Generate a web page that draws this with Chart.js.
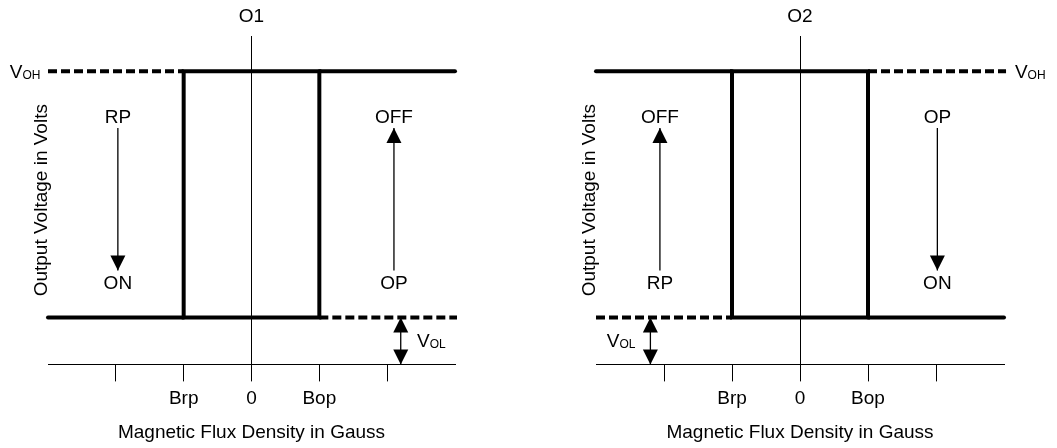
<!DOCTYPE html>
<html lang="en">
<head>
<meta charset="UTF-8">
<title>Output switching O1 / O2</title>
<script src="https://cdn.jsdelivr.net/npm/chart.js"></script>
<style>
  html, body { margin: 0; padding: 0; background: #fff; }
  .wrap { position: relative; width: 1057px; height: 448px; }
  .panel { position: absolute; top: 0; height: 448px; }
  #p1 { left: 0; width: 528px; }
  #p2 { left: 528px; width: 529px; }
</style>
</head>
<body>
<div class="wrap">
  <div class="panel" id="p1"><canvas id="c1"></canvas></div>
  <div class="panel" id="p2"><canvas id="c2"></canvas></div>
</div>
<script>
// shared axis (x in switch-point units, y in arbitrary volts)
const xTickValues = [-2, -1, 0, 1, 2];
const xTickLabels = ['', 'Brp', '0', 'Bop', ''];
const Brp = -1, Bop = 1;
const VOH = 6.25, VOL = 1;

// O1 (left)
const o1Loop = [[Brp, VOL], [Bop, VOL], [Bop, VOH], [Brp, VOH], [Brp, VOL]];
const o1Solid = [[[-3, VOL], [Brp, VOL]], [[Bop, VOH], [3, VOH]]];
const o1Dashed = [[[-3, VOH], [Brp, VOH]], [[Bop, VOL], [3.03, VOL]]];
const o1Arrows = [[-1.97, 5.04, 2.0, 'end'], [2.1, 2.0, 5.04, 'end'], [2.2, VOL, 0, 'both']];
const o1Labels = [['O1', 0, 7.42], ['RP', -1.97, 5.26], ['ON', -1.97, 1.71], ['OFF', 2.1, 5.26], ['OP', 2.1, 1.71]];
const o1SubLabels = [['V', 'OH', -3.11, VOH, 'right'], ['V', 'OL', 2.44, 0.53, 'left']];

// O2 (right)
const o2Loop = [[Brp, VOL], [Bop, VOL], [Bop, VOH], [Brp, VOH], [Brp, VOL]];
const o2Solid = [[[-3, VOH], [Brp, VOH]], [[Bop, VOL], [3, VOL]]];
const o2Dashed = [[[-3, VOL], [Brp, VOL]], [[Bop, VOH], [3.03, VOH]]];
const o2Arrows = [[-2.06, 2.0, 5.04, 'end'], [2.02, 5.04, 2.0, 'end'], [-2.2, VOL, 0, 'both']];
const o2Labels = [['O2', 0, 7.42], ['OFF', -2.06, 5.26], ['RP', -2.06, 1.71], ['OP', 2.02, 5.26], ['ON', 2.02, 1.71]];
const o2SubLabels = [['V', 'OH', 3.16, VOH, 'left'], ['V', 'OL', -2.42, 0.53, 'right']];

const FONT = "'Liberation Sans', Arial, Helvetica, sans-serif";
Chart.defaults.font.family = FONT;
Chart.defaults.font.size = 19;
Chart.defaults.color = '#000';

const pts = arr => arr.map(p => ({ x: p[0], y: p[1] }));

function drawHead(ctx, from, to) {
  const a = Math.atan2(to.y - from.y, to.x - from.x);
  const len = 15, half = 7.5;
  ctx.beginPath();
  ctx.moveTo(to.x, to.y);
  ctx.lineTo(to.x - len * Math.cos(a) + half * Math.sin(a), to.y - len * Math.sin(a) - half * Math.cos(a));
  ctx.lineTo(to.x - len * Math.cos(a) - half * Math.sin(a), to.y - len * Math.sin(a) + half * Math.cos(a));
  ctx.closePath();
  ctx.fill();
}

// arrowheads on the ends of the thin arrow datasets
const arrowPlugin = {
  id: 'arrowHeads',
  afterDatasetsDraw(chart) {
    const ctx = chart.ctx;
    chart.data.datasets.forEach((ds, i) => {
      if (!ds.heads) return;
      const el = chart.getDatasetMeta(i).data;
      const a = el[0], b = el[el.length - 1];
      ctx.save();
      ctx.fillStyle = '#000';
      drawHead(ctx, a, b);
      if (ds.heads === 'both') drawHead(ctx, b, a);
      ctx.restore();
    });
  }
};

// text notes placed with the chart's scales
function notesPlugin(labels, subLabels) {
  return {
    id: 'notes',
    afterDraw(chart) {
      const { ctx, scales: { x, y } } = chart;
      ctx.save();
      ctx.fillStyle = '#000';
      ctx.font = '19px ' + FONT;
      ctx.textAlign = 'center';
      ctx.textBaseline = 'middle';
      labels.forEach(l => ctx.fillText(l[0], x.getPixelForValue(l[1]), y.getPixelForValue(l[2])));

      ctx.textAlign = 'left';
      ctx.textBaseline = 'alphabetic';
      subLabels.forEach(l => {
        const px = x.getPixelForValue(l[2]);
        const base = y.getPixelForValue(l[3]) + 7;
        ctx.font = '19px ' + FONT;
        const w1 = ctx.measureText(l[0]).width;
        ctx.font = '12px ' + FONT;
        const w2 = ctx.measureText(l[1]).width;
        const left = l[4] === 'right' ? px - w1 - w2 : px;
        ctx.font = '19px ' + FONT;
        ctx.fillText(l[0], left, base);
        ctx.font = '12px ' + FONT;
        ctx.fillText(l[1], left + w1, base + 1);
      });
      ctx.restore();
    }
  };
}

function buildChart(id, loop, solid, dashed, arrows, labels, subLabels, padding) {
  const datasets = [];
  datasets.push({ data: pts(loop), borderColor: '#000', borderWidth: 4, borderJoinStyle: 'miter', borderCapStyle: 'square' });
  solid.forEach(s => datasets.push({ data: pts(s), borderColor: '#000', borderWidth: 4, borderCapStyle: 'round' }));
  dashed.forEach(s => datasets.push({ data: pts(s), borderColor: '#000', borderWidth: 4, borderDash: [9, 4] }));
  arrows.forEach(a => datasets.push({
    data: [{ x: a[0], y: a[1] }, { x: a[0], y: a[2] }],
    borderColor: '#000', borderWidth: 1.3, heads: a[3]
  }));
  datasets.forEach(d => { d.pointRadius = 0; d.fill = false; d.tension = 0; d.clip = 6; });

  return new Chart(document.getElementById(id), {
    type: 'line',
    data: { datasets },
    options: {
      responsive: true,
      maintainAspectRatio: false,
      animation: false,
      layout: { padding },
      plugins: { legend: { display: false }, tooltip: { enabled: false } },
      scales: {
        x: {
          type: 'linear', min: -3, max: 3,
          afterBuildTicks: s => { s.ticks = xTickValues.map(v => ({ value: v })); },
          ticks: {
            autoSkip: false, maxRotation: 0, padding: 6,
            callback: v => xTickLabels[xTickValues.indexOf(v)] || ''
          },
          grid: {
            color: c => (c.tick && c.tick.value === 0) ? '#000' : 'rgba(0,0,0,0)',
            tickColor: '#000', tickLength: 17, lineWidth: 1
          },
          border: { display: true, color: '#000', width: 1 },
          title: { display: true, text: 'Magnetic Flux Density in Gauss', padding: { top: 5, bottom: 0 } }
        },
        y: {
          type: 'linear', min: 0, max: 7,
          ticks: { display: false },
          grid: { display: false, drawTicks: false },
          border: { display: false },
          title: { display: true, text: 'Output Voltage in Volts', font: { size: 19, lineHeight: '12px' }, padding: 0 }
        }
      }
    },
    plugins: [arrowPlugin, notesPlugin(labels, subLabels)]
  });
}

buildChart('c1', o1Loop, o1Solid, o1Dashed, o1Arrows, o1Labels, o1SubLabels,
  { left: 36, right: 73, top: 36, bottom: 4 });
buildChart('c2', o2Loop, o2Solid, o2Dashed, o2Arrows, o2Labels, o2SubLabels,
  { left: 56, right: 53, top: 36, bottom: 4 });
</script>
</body>
</html>
